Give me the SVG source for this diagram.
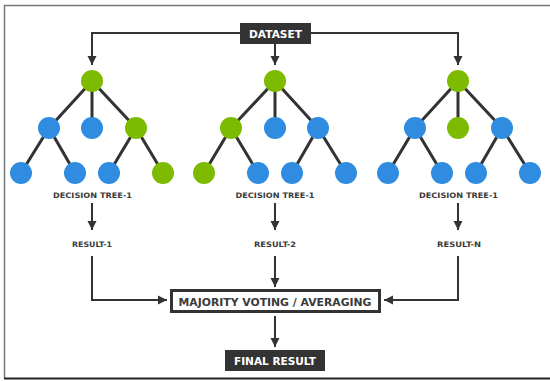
<svg xmlns="http://www.w3.org/2000/svg" width="550" height="381" viewBox="0 0 550 381">
<style>
.edge{stroke:#333;stroke-width:3;fill:none}
.g{fill:#7dbb00}
.b{fill:#2f8ce0}
.con{stroke:#333;stroke-width:2;fill:none}
.lbl{font-family:"DejaVu Sans",sans-serif;font-weight:bold;font-size:7.5px;fill:#3a3a3a;text-anchor:middle}
.boxt{font-family:"DejaVu Sans",sans-serif;font-weight:bold;fill:#fff;text-anchor:middle}
</style>
<defs>
<marker id="ah" markerUnits="userSpaceOnUse" markerWidth="10" markerHeight="10" viewBox="0 0 10 10" refX="9" refY="5" orient="auto">
<path d="M0,0.5 L9,5 L0,9.5 Z" fill="#333"/>
</marker>
</defs>
<rect width="550" height="381" fill="#fff"/>
<path d="M4.5,378 V5.5 H550" stroke="#777" stroke-width="1.5" fill="none"/>
<path d="M4,378.5 H550" stroke="#222" stroke-width="2" fill="none"/>

<g id="connectors">
<path class="con" d="M240,33 H92 V65" marker-end="url(#ah)"/>
<path class="con" d="M275,44 V65" marker-end="url(#ah)"/>
<path class="con" d="M311,33 H458 V65" marker-end="url(#ah)"/>
<path class="con" d="M92,203 V230" marker-end="url(#ah)"/>
<path class="con" d="M275,203 V230" marker-end="url(#ah)"/>
<path class="con" d="M458,203 V230" marker-end="url(#ah)"/>
<path class="con" d="M92,256 V300 H167" marker-end="url(#ah)"/>
<path class="con" d="M275,256 V287" marker-end="url(#ah)"/>
<path class="con" d="M458,256 V300 H384" marker-end="url(#ah)"/>
<path class="con" d="M275,316 V347" marker-end="url(#ah)"/>
</g>

<g id="dataset">
<rect x="240" y="23" width="71" height="21" fill="#333"/>
<text class="boxt" x="275.5" y="37.5" font-size="10" textLength="53" lengthAdjust="spacingAndGlyphs">DATASET</text>
</g>

<g id="tree1">
<path class="edge" d="M49,128 L92,81 L136,128 M92,81 V128 M21,173 L49,128 L75,173 M109,173 L136,128 L163,173"/>
<circle class="g" cx="92" cy="81" r="11"/>
<circle class="b" cx="49" cy="128" r="11"/>
<circle class="b" cx="92" cy="128" r="11"/>
<circle class="g" cx="136" cy="128" r="11"/>
<circle class="b" cx="21" cy="173" r="11"/>
<circle class="b" cx="75" cy="173" r="11"/>
<circle class="b" cx="109" cy="173" r="11"/>
<circle class="g" cx="163" cy="173" r="11"/>
<text class="lbl" x="92.5" y="198" textLength="79" lengthAdjust="spacingAndGlyphs">DECISION TREE-1</text>
</g>

<g id="tree2">
<path class="edge" d="M231,128 L275,81 L318,128 M275,81 V128 M204,173 L231,128 L258,173 M292,173 L318,128 L346,173"/>
<circle class="g" cx="275" cy="81" r="11"/>
<circle class="g" cx="231" cy="128" r="11"/>
<circle class="b" cx="275" cy="128" r="11"/>
<circle class="b" cx="318" cy="128" r="11"/>
<circle class="g" cx="204" cy="173" r="11"/>
<circle class="b" cx="258" cy="173" r="11"/>
<circle class="b" cx="292" cy="173" r="11"/>
<circle class="b" cx="346" cy="173" r="11"/>
<text class="lbl" x="275" y="198" textLength="79" lengthAdjust="spacingAndGlyphs">DECISION TREE-1</text>
</g>

<g id="tree3">
<path class="edge" d="M415,128 L458,81 L502,128 M458,81 V128 M388,173 L415,128 L442,173 M476,173 L502,128 L530,173"/>
<circle class="g" cx="458" cy="81" r="11"/>
<circle class="b" cx="415" cy="128" r="11"/>
<circle class="g" cx="458" cy="128" r="11"/>
<circle class="b" cx="502" cy="128" r="11"/>
<circle class="b" cx="388" cy="173" r="11"/>
<circle class="b" cx="442" cy="173" r="11"/>
<circle class="b" cx="476" cy="173" r="11"/>
<circle class="b" cx="530" cy="173" r="11"/>
<text class="lbl" x="458.5" y="198" textLength="79" lengthAdjust="spacingAndGlyphs">DECISION TREE-1</text>
</g>

<g id="result1"><text class="lbl" x="92" y="247" textLength="40" lengthAdjust="spacingAndGlyphs">RESULT-1</text></g>
<g id="result2"><text class="lbl" x="275" y="247" textLength="42" lengthAdjust="spacingAndGlyphs">RESULT-2</text></g>
<g id="resultN"><text class="lbl" x="459" y="247" textLength="44" lengthAdjust="spacingAndGlyphs">RESULT-N</text></g>

<g id="majority">
<rect x="171.5" y="290.5" width="208" height="21" fill="#fff" stroke="#333" stroke-width="3"/>
<text x="275" y="305.5" font-family="DejaVu Sans,sans-serif" font-weight="bold" font-size="11" fill="#3a3a3a" text-anchor="middle" textLength="193" lengthAdjust="spacingAndGlyphs">MAJORITY VOTING / AVERAGING</text>
</g>

<g id="final">
<rect x="225" y="350" width="100" height="21" fill="#333"/>
<text class="boxt" x="275" y="364.5" font-size="10" textLength="82" lengthAdjust="spacingAndGlyphs">FINAL RESULT</text>
</g>
</svg>
